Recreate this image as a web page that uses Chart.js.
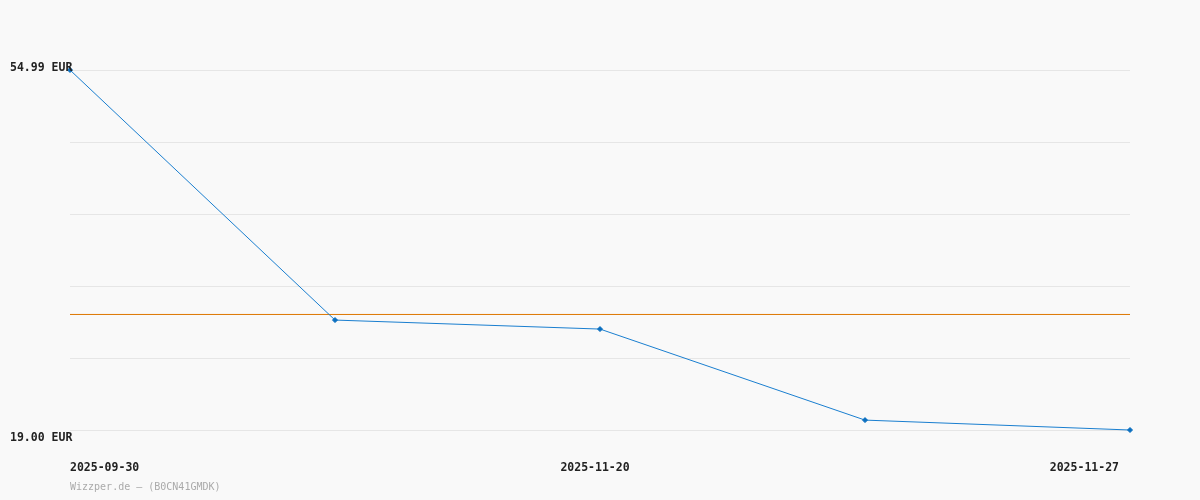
<!DOCTYPE html>
<html><head><meta charset="utf-8">
<script src="https://cdn.jsdelivr.net/npm/chart.js@4/dist/chart.umd.min.js"></script>
<style>html,body{margin:0;padding:0;background:#f9f9f9;}#wrap{width:1200px;height:500px;}</style>
</head><body><div id="wrap"><canvas id="c" width="1200" height="500"></canvas></div>
<script>
const categories = ['2025-09-30', '', '2025-11-20', '', '2025-11-27'];
const prices = [54.99, 29.99, 29.09, 19.99, 19.00];
const averagePrice = 30.55;
const yMin = 19.00;
const yMax = 54.99;
const yTickLabels = ['19.00 EUR', '54.99 EUR'];
const footerText = 'Wizzper.de – (B0CN41GMDK)';

const FONT = '"DejaVu Sans Mono", "Liberation Mono", monospace';

const textPlugin = {
  id: 'texts',
  afterDraw(chart) {
    const ctx = chart.ctx;
    const ys = chart.scales.y, xs = chart.scales.x;
    ctx.save();
    ctx.font = 'bold 11.5px ' + FONT;
    ctx.fillStyle = '#222';
    ctx.textBaseline = 'middle';
    ctx.textAlign = 'left';
    ctx.fillText(yTickLabels[1], 10, ys.getPixelForValue(yMax) - 2);
    ctx.fillText(yTickLabels[0], 10, ys.getPixelForValue(yMin) + 8);
    const n = categories.length;
    categories.forEach((lab, i) => {
      if (!lab) return;
      const x = xs.getPixelForValue(i);
      if (i === 0) { ctx.textAlign = 'left'; ctx.fillText(lab, x, 468); }
      else if (i === n - 1) { ctx.textAlign = 'right'; ctx.fillText(lab, x - 11, 468); }
      else { ctx.textAlign = 'center'; ctx.fillText(lab, x - 5, 468); }
    });
    ctx.font = '10px ' + FONT;
    ctx.fillStyle = '#aaaaaa';
    ctx.textAlign = 'left';
    ctx.fillText(footerText, xs.getPixelForValue(0), 487);
    ctx.restore();
  }
};

const bgPlugin = {
  id: 'bg',
  beforeDraw(chart) {
    const ctx = chart.ctx;
    ctx.save(); ctx.fillStyle = '#f9f9f9'; ctx.fillRect(0, 0, chart.width, chart.height); ctx.restore();
  }
};

new Chart(document.getElementById('c'), {
  type: 'line',
  data: {
    labels: categories,
    datasets: [
      {
        data: prices,
        borderColor: '#1a7fd0',
        backgroundColor: '#0a6fc0',
        borderWidth: 1,
        pointRadius: 2.5,
        pointStyle: 'rectRot',
        pointBorderWidth: 1,
        pointBorderColor: '#0a6fc0',
        tension: 0,
        clip: false,
        order: 1
      },
      {
        data: categories.map(() => averagePrice),
        borderColor: '#dd7700',
        borderWidth: 1,
        pointRadius: 0,
        tension: 0,
        order: 2
      }
    ]
  },
  options: {
    responsive: false,
    animation: false,
    layout: { padding: { left: 70, right: 70, top: 70, bottom: 70 } },
    plugins: { legend: { display: false }, tooltip: { enabled: false } },
    scales: {
      x: { display: false, offset: false },
      y: {
        min: yMin, max: yMax,
        ticks: { display: false },
        border: { display: false },
        grid: { color: '#e6e6e6', lineWidth: 1, drawTicks: false },
        afterBuildTicks(scale) {
          const t = [];
          for (let i = 0; i <= 5; i++) t.push({ value: yMin + (yMax - yMin) * i / 5 });
          scale.ticks = t;
        }
      }
    }
  },
  plugins: [bgPlugin, textPlugin]
});
</script></body></html>
